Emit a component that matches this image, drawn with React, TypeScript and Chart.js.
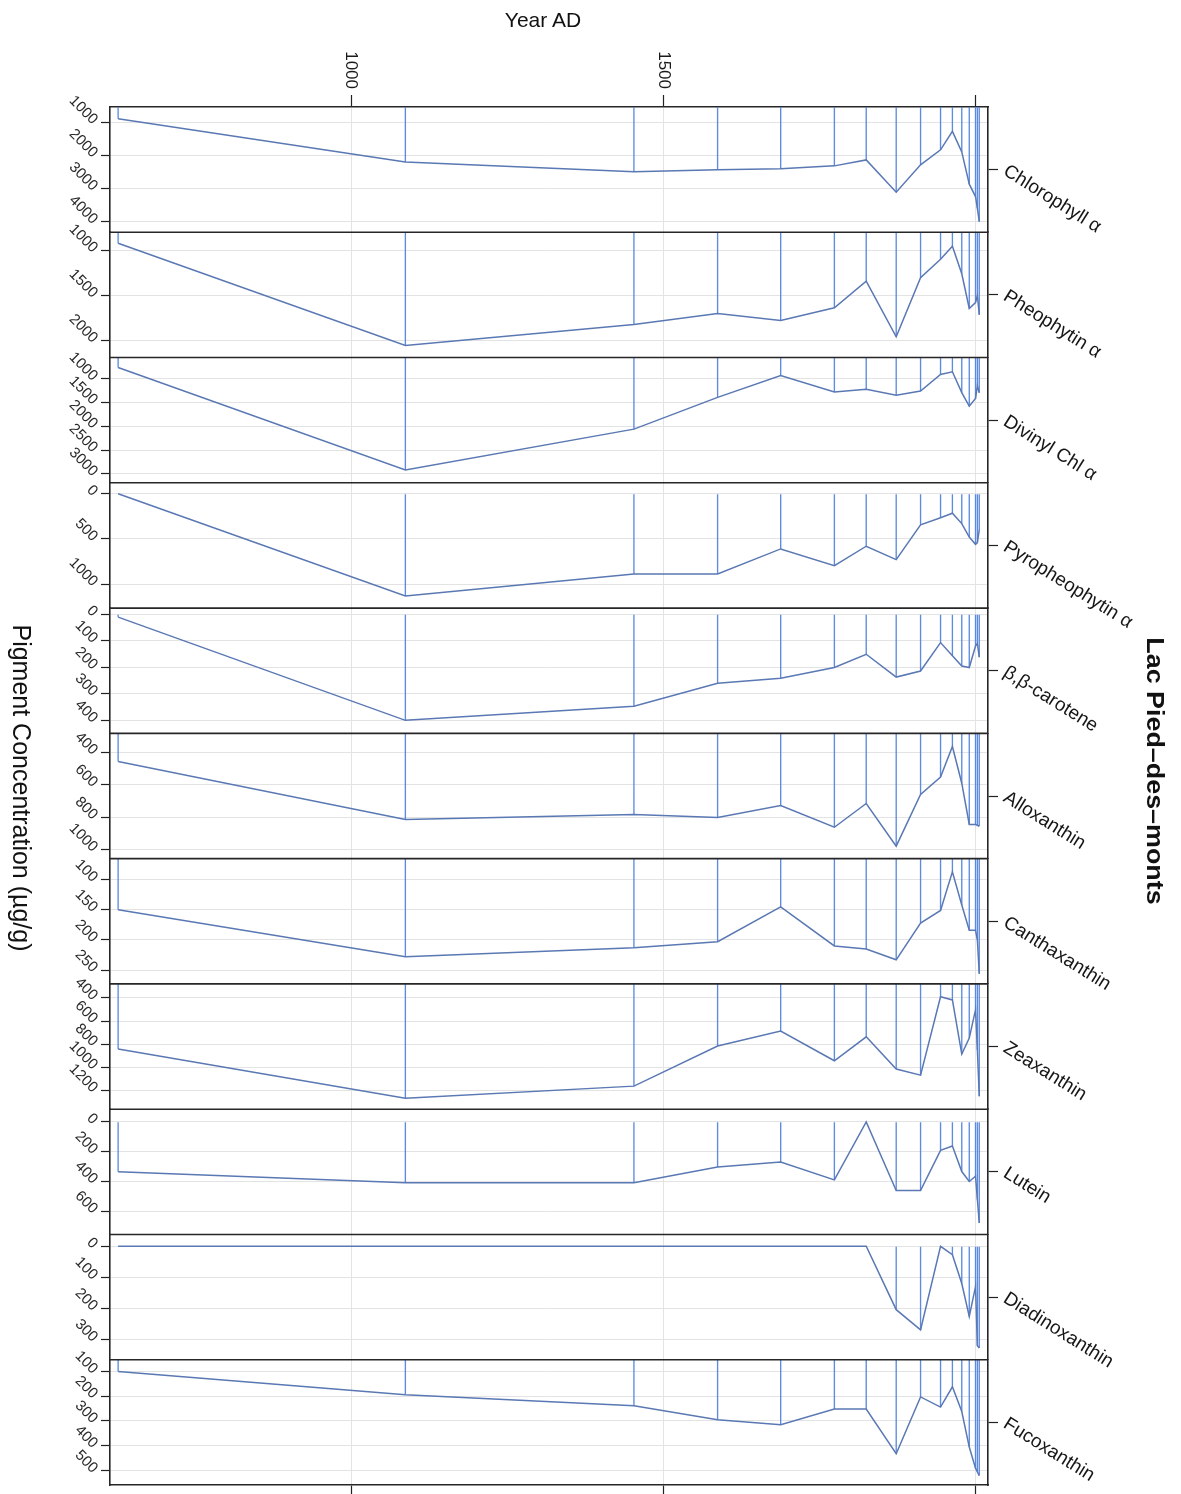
import React, { useEffect, useRef } from 'react';
import { Chart, registerables } from 'chart.js';

Chart.register(...registerables);

// ---------- data ----------
const years = [627, 1087, 1453, 1587, 1688, 1774, 1825, 1873, 1912, 1944, 1963, 1978, 1990, 2000, 2003, 2006];

const pigmentNames = [
  'Chlorophyll α',
  'Pheophytin α',
  'Divinyl Chl α',
  'Pyropheophytin α',
  'β,β-carotene',
  'Alloxanthin',
  'Canthaxanthin',
  'Zeaxanthin',
  'Lutein',
  'Diadinoxanthin',
  'Fucoxanthin',
];

const chlorophyllA = [900, 2207, 2500, 2440, 2410, 2320, 2140, 3113, 2290, 1836, 1280, 1900, 2870, 3245, 3600, 4000];
const pheophytinA = [922, 2056, 1822, 1700, 1778, 1637, 1341, 1959, 1304, 1100, 955, 1260, 1645, 1580, 1500, 1715];
const divinylChlA = [771, 2917, 2062, 1396, 937, 1285, 1229, 1354, 1264, 917, 860, 1298, 1580, 1420, 1150, 1300];
const pyropheophytinA = [0, 1133, 889, 889, 611, 796, 581, 730, 344, 265, 215, 330, 480, 560, 540, 400];
const betaCarotene = [11, 400, 347, 260, 241, 201, 151, 237, 214, 107, 157, 195, 201, 120, 110, 162];
const alloxanthin = [456, 814, 783, 802, 728, 862, 715, 979, 660, 552, 363, 590, 845, 845, 850, 856];
const canthaxanthin = [150, 228, 213, 203, 145, 210, 215, 233, 172, 151, 87, 142, 184, 184, 200, 256];
const zeaxanthin = [843, 1270, 1165, 817, 687, 945, 737, 1017, 1070, 389, 417, 887, 748, 504, 852, 1252];
const lutein = [335, 409, 409, 302, 269, 389, 0, 460, 460, 191, 162, 333, 400, 365, 520, 678];
const diadinoxanthin = [0, 0, 0, 0, 0, 0, 0, 204, 269, 0, 27, 120, 226, 130, 320, 327];
const fucoxanthin = [100, 194, 239, 295, 315, 252, 252, 432, 203, 244, 162, 262, 405, 490, 505, 520];

const yTickValues = [
  [1000, 2000, 3000, 4000],
  [1000, 1500, 2000],
  [1000, 1500, 2000, 2500, 3000],
  [0, 500, 1000],
  [0, 100, 200, 300, 400],
  [400, 600, 800, 1000],
  [100, 150, 200, 250],
  [400, 600, 800, 1000, 1200],
  [0, 200, 400, 600],
  [0, 100, 200, 300],
  [100, 200, 300, 400, 500],
];
const yMins = [547, 800, 562, -122, -23, 282, 65, 278, -85, -38, 53];
const yMaxs = [4320, 2189, 3187, 1267, 449, 1056, 273, 1365, 755, 365, 558];

const xMin = 614;
const xMax = 2020;
const xTickValues = [1000, 1500, 2000];
const xTickLabels = ['1000', '1500', ''];

const FONT = '"Liberation Sans", Arial, Helvetica, sans-serif';

export default function App() {
  const ref = useRef<HTMLCanvasElement>(null);

  useEffect(() => {
    const canvas = ref.current;
    if (!canvas) return;
    Chart.defaults.font.family = FONT;

    const series = [
      chlorophyllA, pheophytinA, divinylChlA, pyropheophytinA, betaCarotene,
      alloxanthin, canthaxanthin, zeaxanthin, lutein, diadinoxanthin, fucoxanthin,
    ];

    const gridColor = '#e3e3e3';
    const frameColor = '#262626';
    const lineColor = '#5a78b3';
    const barColor = 'rgba(74,126,222,0.9)';

    const scales: any = {
      x: {
        type: 'linear',
        position: 'top',
        min: xMin,
        max: xMax,
        offset: false,
        afterBuildTicks: (s: any) => { s.ticks = xTickValues.map((v) => ({ value: v })); },
        ticks: { display: false },
        grid: { color: gridColor, lineWidth: 1, drawTicks: true, tickLength: 12, tickColor: '#222', tickWidth: 1.2, drawOnChartArea: true, offset: false },
        border: { display: true, color: frameColor, width: 1.6 },
        afterFit: (s: any) => { s.height = 107; s.paddingLeft = 0; s.paddingRight = 0; s.paddingTop = 0; s.paddingBottom = 0; },
      },
      xb: {
        type: 'linear',
        position: 'bottom',
        min: xMin,
        max: xMax,
        offset: false,
        afterBuildTicks: (s: any) => { s.ticks = xTickValues.map((v) => ({ value: v })); },
        ticks: { display: false },
        grid: { drawOnChartArea: false, drawTicks: true, tickLength: 9, tickColor: '#222', tickWidth: 1.2, offset: false },
        border: { display: true, color: frameColor, width: 1.6 },
        afterFit: (s: any) => { s.height = 9; s.paddingLeft = 0; s.paddingRight = 0; s.paddingTop = 0; s.paddingBottom = 0; },
      },
    };

    series.forEach((_, i) => {
      scales['yL' + i] = {
        type: 'linear',
        position: 'left',
        stack: 'panels',
        stackWeight: 1,
        weight: 50 - i,
        reverse: true,
        min: yMins[i],
        max: yMaxs[i],
        afterBuildTicks: (s: any) => { s.ticks = yTickValues[i].map((v) => ({ value: v })); },
        ticks: {
          autoSkip: false,
          minRotation: -45,
          maxRotation: 50,
          padding: 6,
          color: '#2a2a2a',
          font: { size: 15, family: FONT },
          callback: (v: any) => String(v),
        },
        grid: { color: gridColor, lineWidth: 1, drawTicks: true, tickLength: 9, tickColor: '#222', tickWidth: 1.2, drawOnChartArea: true },
        border: { display: true, color: frameColor, width: 1.6 },
        afterFit: (s: any) => { s.width = 110; s.paddingTop = 0; s.paddingBottom = 0; },
      };
      scales['yR' + i] = {
        type: 'linear',
        position: 'right',
        stack: 'panels',
        stackWeight: 1,
        weight: i,
        min: 0,
        max: 1,
        afterBuildTicks: (s: any) => { s.ticks = [{ value: 0.5 }]; },
        ticks: {
          autoSkip: false,
          minRotation: -32,
          maxRotation: 50,
          padding: 7,
          color: '#161616',
          font: { size: 19, family: FONT },
          callback: () => pigmentNames[i],
        },
        grid: { drawOnChartArea: false, drawTicks: true, tickLength: 10, tickColor: '#222', tickWidth: 1.2 },
        border: { display: true, color: frameColor, width: 1.6 },
        afterFit: (s: any) => { s.width = 193; s.paddingTop = 0; s.paddingBottom = 0; },
      };
    });

    const datasets: any[] = [];
    series.forEach((vals, i) => {
      const pts = years.map((yr, k) => ({ x: yr, y: vals[k] }));
      datasets.push({
        type: 'line',
        label: pigmentNames[i],
        data: pts,
        xAxisID: 'x',
        yAxisID: 'yL' + i,
        borderColor: lineColor,
        borderWidth: 1.5,
        pointRadius: 0,
        tension: 0,
        fill: false,
        order: 0,
      });
      datasets.push({
        type: 'bar',
        label: pigmentNames[i] + ' drops',
        data: pts,
        xAxisID: 'x',
        yAxisID: 'yL' + i,
        backgroundColor: barColor,
        borderWidth: 0,
        grouped: false,
        maxBarThickness: 1.6,
        base: Math.max(0, yMins[i]),
        order: 1,
      });
    });

    const overlay = {
      id: 'panelOverlay',
      afterDatasetsDraw(chart: any) {
        const ctx = chart.ctx;
        const ca = chart.chartArea;
        ctx.save();
        ctx.strokeStyle = frameColor;
        ctx.lineWidth = 1.6;
        series.forEach((_, i) => {
          if (i === 0) return;
          const s = chart.scales['yL' + i];
          ctx.beginPath();
          ctx.moveTo(ca.left, s.top);
          ctx.lineTo(ca.right, s.top);
          ctx.stroke();
        });
        ctx.restore();
      },
      afterDraw(chart: any) {
        const ctx = chart.ctx;
        const xs = chart.scales.x;
        ctx.save();
        ctx.font = '17px ' + FONT;
        ctx.fillStyle = '#1a1a1a';
        ctx.textAlign = 'right';
        ctx.textBaseline = 'middle';
        xTickValues.forEach((v, k) => {
          const lbl = xTickLabels[k];
          if (!lbl) return;
          const px = xs.getPixelForValue(v);
          ctx.save();
          ctx.translate(px, xs.bottom - 18);
          ctx.rotate(Math.PI / 2);
          ctx.fillText(lbl, 0, 0);
          ctx.restore();
        });
        ctx.restore();
      },
    };

    const chart = new Chart(canvas, {
      type: 'line',
      data: { datasets },
      options: {
        animation: false,
        responsive: false,
        devicePixelRatio: 1,
        events: [],
        layout: { padding: 0 },
        plugins: {
          legend: { display: false },
          tooltip: { enabled: false },
          title: { display: false },
        },
        scales,
      },
      plugins: [overlay],
    } as any);

    return () => chart.destroy();
  }, []);

  return (
    <div style={{ position: 'absolute', left: 0, top: 0, width: 1181, height: 1494, background: '#fff', overflow: 'hidden' }}>
      <canvas ref={ref} width={1181} height={1494} style={{ position: 'absolute', left: 0, top: 0 }} />
      <div
        style={{
          position: 'absolute', left: 443, top: 9, width: 200, textAlign: 'center',
          fontFamily: FONT, fontSize: 21, lineHeight: '21px', color: '#111',
        }}
      >
        Year AD
      </div>
      <div
        style={{
          position: 'absolute', left: 22 - 200, top: 788 - 15, width: 400, height: 30, lineHeight: '30px',
          textAlign: 'center', fontFamily: FONT, fontSize: 25, color: '#111', transform: 'rotate(90deg)', whiteSpace: 'nowrap',
        }}
      >
        Pigment Concentration (µg/g)
      </div>
      <div
        style={{
          position: 'absolute', left: 1155 - 200, top: 771 - 15, width: 400, height: 30, lineHeight: '30px',
          textAlign: 'center', fontFamily: FONT, fontSize: 24, fontWeight: 'bold', color: '#111',
          transform: 'rotate(90deg) scaleX(1.12)', whiteSpace: 'nowrap',
        }}
      >
        Lac Pied–des–monts
      </div>
    </div>
  );
}
